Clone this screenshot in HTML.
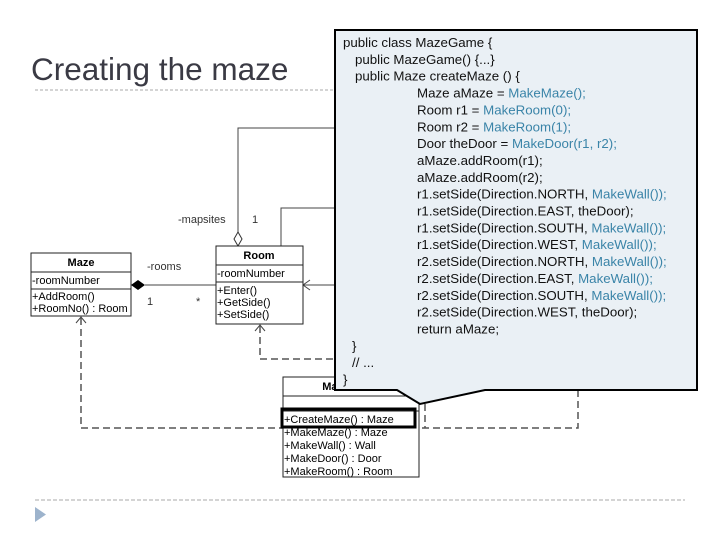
<!DOCTYPE html>
<html><head><meta charset="utf-8"><style>
body{margin:0;background:#fff;}
svg{display:block;font-family:"Liberation Sans",sans-serif;}
</style></head><body>
<svg width="720" height="540" xmlns="http://www.w3.org/2000/svg">
<text x="31" y="80" font-size="31.5" fill="#3a3a44">Creating the maze</text>
<line x1="35" y1="90" x2="335" y2="90" stroke="#aaa" stroke-dasharray="3,2"/>
<line x1="35" y1="500" x2="685" y2="500" stroke="#aaa" stroke-dasharray="4,2"/>
<polygon points="35,507 46,514.5 35,522" fill="#9db3cc"/>

<g fill="none" stroke="#444" stroke-width="1">
<polyline points="238,232 238,128 340,128"/>
<polyline points="281,246 281,208 340,208"/>
<line x1="145" y1="285" x2="216" y2="285"/>
<line x1="303" y1="285" x2="340" y2="285"/>
<polyline points="310,280 303,285 310,290"/>
</g>
<g fill="none" stroke="#555" stroke-width="1.5" stroke-dasharray="7,4">
<polyline points="81,318 81,428 578,428 578,390"/>
<polyline points="260,326 260,359 340,359"/>
<line x1="425" y1="404" x2="425" y2="428"/>
</g>
<polyline points="76,323 81,317 86,323" fill="none" stroke="#444"/>
<polyline points="255,331 260,325 265,331" fill="none" stroke="#444"/>
<polygon points="131,285 138,280 145,285 138,290" fill="#000"/>
<polygon points="238,232 242,239 238,246 234,239" fill="#fff" stroke="#333"/>

<g font-size="11" fill="#333">
<text x="178" y="223">-mapsites</text>
<text x="252" y="223">1</text>
<text x="147" y="270">-rooms</text>
<text x="147" y="305">1</text>
<text x="196" y="305">*</text>
</g>

<g stroke="#222" fill="#fff">
<rect x="31" y="253" width="100" height="63"/>
<line x1="31" y1="272" x2="131" y2="272"/>
<line x1="31" y1="289" x2="131" y2="289"/>
</g>
<g font-size="11" fill="#000">
<text x="81" y="266" text-anchor="middle" font-weight="bold">Maze</text>
<text x="32" y="284">-roomNumber</text>
<text x="32" y="300">+AddRoom()</text>
<text x="32" y="312">+RoomNo() : Room</text>
</g>
<g stroke="#222" fill="#fff">
<rect x="216" y="246" width="87" height="78"/>
<line x1="216" y1="265" x2="303" y2="265"/>
<line x1="216" y1="282" x2="303" y2="282"/>
</g>
<g font-size="11" fill="#000">
<text x="259" y="259" text-anchor="middle" font-weight="bold">Room</text>
<text x="217" y="277">-roomNumber</text>
<text x="217" y="294">+Enter()</text>
<text x="217" y="306">+GetSide()</text>
<text x="217" y="318">+SetSide()</text>
</g>
<g stroke="#222" fill="#fff">
<rect x="283" y="377" width="136" height="100"/>
<line x1="283" y1="396" x2="419" y2="396"/>
<line x1="283" y1="411" x2="419" y2="411"/>
</g>
<g font-size="11" fill="#000">
<text x="351" y="390" text-anchor="middle" font-weight="bold">MazeGame</text>
<text x="284" y="423">+CreateMaze() : Maze</text>
<text x="284" y="436">+MakeMaze() : Maze</text>
<text x="284" y="449">+MakeWall() : Wall</text>
<text x="284" y="462">+MakeDoor() : Door</text>
<text x="284" y="475">+MakeRoom() : Room</text>
</g>
<rect x="282" y="409" width="133" height="18" fill="none" stroke="#000" stroke-width="3"/>

<path d="M335,30 H697 V390 H485 L420,404 L397,390 H335 Z" fill="#eaf0f5" stroke="#000" stroke-width="2"/>
<g font-size="13.3" fill="#111">
<text x="343" y="47">public class MazeGame {</text>
<text x="355" y="63.9">public MazeGame() {...}</text>
<text x="355" y="80.7">public Maze createMaze () {</text>
<text x="417" y="97.6">Maze aMaze = <tspan fill="#3a84a8">MakeMaze();</tspan></text>
<text x="417" y="114.4">Room r1 = <tspan fill="#3a84a8">MakeRoom(0);</tspan></text>
<text x="417" y="131.3">Room r2 = <tspan fill="#3a84a8">MakeRoom(1);</tspan></text>
<text x="417" y="148.1">Door theDoor = <tspan fill="#3a84a8">MakeDoor(r1, r2);</tspan></text>
<text x="417" y="165">aMaze.addRoom(r1);</text>
<text x="417" y="181.8">aMaze.addRoom(r2);</text>
<text x="417" y="198.7">r1.setSide(Direction.NORTH, <tspan fill="#3a84a8">MakeWall());</tspan></text>
<text x="417" y="215.5">r1.setSide(Direction.EAST, theDoor);</text>
<text x="417" y="232.4">r1.setSide(Direction.SOUTH, <tspan fill="#3a84a8">MakeWall());</tspan></text>
<text x="417" y="249.2">r1.setSide(Direction.WEST, <tspan fill="#3a84a8">MakeWall());</tspan></text>
<text x="417" y="266.1">r2.setSide(Direction.NORTH, <tspan fill="#3a84a8">MakeWall());</tspan></text>
<text x="417" y="282.9">r2.setSide(Direction.EAST, <tspan fill="#3a84a8">MakeWall());</tspan></text>
<text x="417" y="299.8">r2.setSide(Direction.SOUTH, <tspan fill="#3a84a8">MakeWall());</tspan></text>
<text x="417" y="316.6">r2.setSide(Direction.WEST, theDoor);</text>
<text x="417" y="333.5">return aMaze;</text>
<text x="352" y="350.3">}</text>
<text x="352" y="367.2">// ...</text>
<text x="343" y="384">}</text>
</g>
</svg>
</body></html>
